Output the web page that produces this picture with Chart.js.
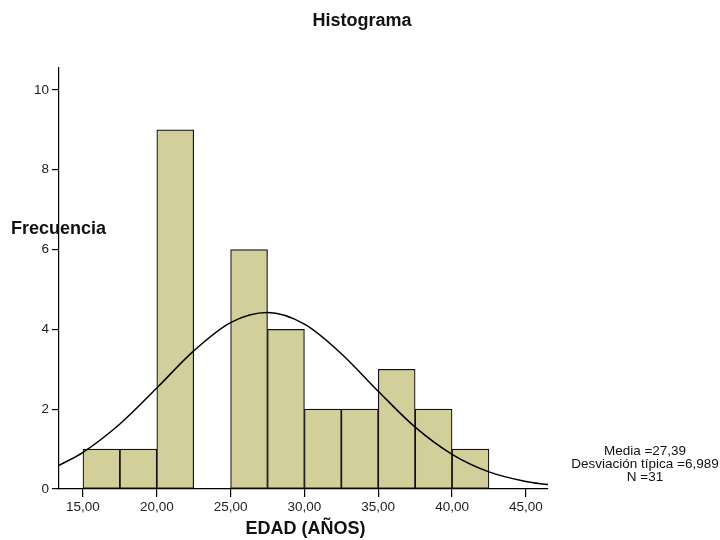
<!DOCTYPE html>
<html>
<head>
<meta charset="utf-8">
<title>Histograma</title>
<script src="https://cdn.jsdelivr.net/npm/chart.js@4"></script>
<style>
    body { margin: 0; background: #fff; }
    #wrap { width: 720px; height: 540px; }
</style>
</head>
<body>
<div id="wrap"><canvas id="hist" width="720" height="540"></canvas></div>
<script>
// histogram bins (centres, width 2.5) and counts
const binCenters = [16.25, 18.75, 21.25, 23.75, 26.25, 28.75, 31.25, 33.75, 36.25, 38.75, 41.25];
const binCounts = [1, 1, 9, 0, 6, 4, 2, 2, 3, 2, 1];

// normal curve
const curveX = [13.375, 15, 17.5, 20, 22.5, 25, 27.5, 30, 32.5, 35, 37.5, 40, 42.5, 45, 46.5];
const curveY = [0.59, 0.92, 1.63, 2.53, 3.46, 4.17, 4.42, 4.13, 3.39, 2.45, 1.55, 0.87, 0.43, 0.19, 0.11];

const xTicks = [15, 20, 25, 30, 35, 40, 45];
const yTicks = [0, 2, 4, 6, 8, 10];

const statsLines = ['Media =27,39', 'Desviación típica =6,989', 'N =31'];

const FONT = '"Liberation Sans", Arial, sans-serif';

window.onload = () => {
    const textPlugin = {
        id: 'texts',
        afterDraw(chart) {
            const ctx = chart.ctx;
            const area = chart.chartArea;
            ctx.save();
            ctx.fillStyle = '#111';
            ctx.textBaseline = 'middle';

            ctx.font = 'bold 18px ' + FONT;
            ctx.textAlign = 'center';
            ctx.fillText('Histograma', 362, 21);

            ctx.fillText('EDAD (AÑOS)', (area.left + area.right) / 2 + 2, 529);

            ctx.textAlign = 'left';
            ctx.fillText('Frecuencia', 11, 229);

            ctx.font = '13.5px ' + FONT;
            ctx.textAlign = 'center';
            statsLines.forEach((s, i) => {
                ctx.fillText(s, 645, 451 + i * 13.3);
            });
            ctx.restore();
        }
    };

    const config = {
        type: 'bar',
        data: {
            datasets: [
                {
                    type: 'line',
                    data: curveX.map((x, i) => ({ x: x, y: curveY[i] })),
                    borderColor: '#000',
                    borderWidth: 1.5,
                    pointRadius: 0,
                    cubicInterpolationMode: 'monotone',
                    fill: false,
                    order: 0
                },
                {
                    type: 'bar',
                    data: binCenters.map((x, i) => ({ x: x, y: binCounts[i] })),
                    backgroundColor: '#d3cf9b',
                    borderColor: '#111',
                    borderWidth: 1.2,
                    borderSkipped: false,
                    barPercentage: 1,
                    categoryPercentage: 1,
                    order: 1
                }
            ]
        },
        options: {
            responsive: false,
            animation: false,
            devicePixelRatio: 1,
            layout: {
                padding: { left: 0, top: 68, right: 172, bottom: 0 }
            },
            plugins: {
                legend: { display: false },
                tooltip: { enabled: false },
                title: { display: false }
            },
            scales: {
                x: {
                    type: 'linear',
                    offset: false,
                    min: 13.375,
                    max: 46.5,
                    afterBuildTicks: (scale) => {
                        scale.ticks = xTicks.map(v => ({ value: v }));
                    },
                    afterFit: (scale) => { scale.height = 51; },
                    grid: {
                        offset: false,
                        drawOnChartArea: false,
                        drawTicks: true,
                        tickLength: 8,
                        color: '#000',
                        lineWidth: 1.2
                    },
                    border: { display: true, color: '#000', width: 1.2 },
                    ticks: {
                        padding: 2,
                        color: '#222',
                        maxRotation: 0,
                        font: { family: FONT, size: 13.5 },
                        callback: (v) => v.toFixed(2).replace('.', ',')
                    }
                },
                y: {
                    min: 0,
                    max: 10.55,
                    afterBuildTicks: (scale) => {
                        scale.ticks = yTicks.map(v => ({ value: v }));
                    },
                    afterFit: (scale) => { scale.width = 59; },
                    grid: {
                        drawOnChartArea: false,
                        drawTicks: true,
                        tickLength: 7,
                        color: '#000',
                        lineWidth: 1.2
                    },
                    border: { display: true, color: '#000', width: 1.2 },
                    ticks: {
                        padding: 3,
                        color: '#222',
                        font: { family: FONT, size: 13.5 }
                    }
                }
            }
        },
        plugins: [textPlugin]
    };

    new Chart(document.getElementById('hist'), config);
};
</script>
</body>
</html>
